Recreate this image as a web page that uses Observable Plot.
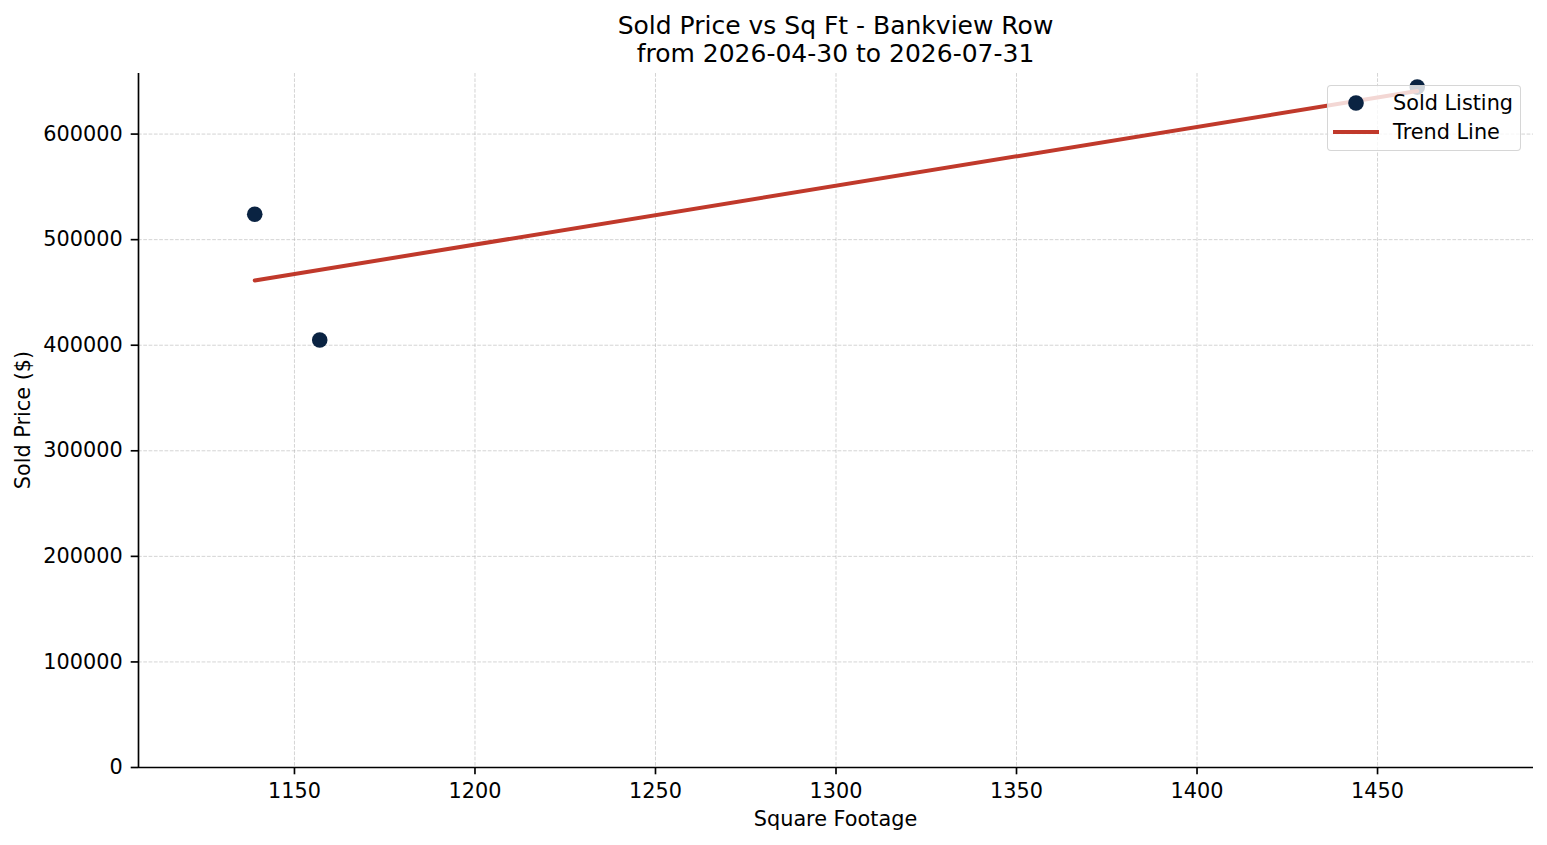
<!DOCTYPE html>
<html>
<head>
<meta charset="utf-8">
<script src="https://cdn.jsdelivr.net/npm/d3@7"></script>
<script src="https://cdn.jsdelivr.net/npm/@observablehq/plot@0.6"></script>
<style>
  html, body { margin: 0; padding: 0; background: #fff; }
  body { font-family: "DejaVu Sans", sans-serif; color: #000; }
  #wrap { position: relative; width: 1547px; height: 845px; }
  .title { position: absolute; left: 138px; width: 1395px; top: 11.5px; text-align: center; font-size: 25px; line-height: 28.4px; }
  .xlabel { position: absolute; left: 138px; width: 1395px; top: 807px; text-align: center; font-size: 20.8px; line-height: 24px; }
  .ylabel { position: absolute; left: 23px; top: 420px; transform: translate(-50%, -50%) rotate(-90deg); white-space: nowrap; font-size: 20.8px; line-height: 24px; }
  .legend { position: absolute; left: 1327px; top: 85px; width: 192px; height: 64px; border: 1px solid rgba(204,204,204,0.8); background: rgba(255,255,255,0.8); border-radius: 4px; }
  .legend svg { position: absolute; left: 0; top: 0; }
  .legend .lt { position: absolute; left: 65px; font-size: 20.8px; line-height: 24px; white-space: nowrap; }
</style>
</head>
<body>
<div id="wrap">
  <div id="chart"></div>
  <div class="title">Sold Price vs Sq Ft - Bankview Row<br>from 2026-04-30 to 2026-07-31</div>
  <div class="xlabel">Square Footage</div>
  <div class="ylabel">Sold Price ($)</div>
  <div class="legend">
    <svg width="192" height="64">
      <circle cx="28" cy="17" r="7.8" fill="#0a2342"></circle>
      <line x1="5" x2="51" y1="46" y2="46" stroke="#c0392b" stroke-width="4.2"></line>
    </svg>
    <div class="lt" style="top:5px">Sold Listing</div>
    <div class="lt" style="top:34px">Trend Line</div>
  </div>
</div>
<script>
// Data
const sqft = [1139, 1157, 1461];
const soldPrice = [524000, 405000, 644500];
const xTicks = [1150, 1200, 1250, 1300, 1350, 1400, 1450];
const yTicks = [0, 100000, 200000, 300000, 400000, 500000, 600000];

const listings = sqft.map((s, i) => ({sqft: s, price: soldPrice[i]}));

// least-squares trend from the listings
const mx = d3.mean(sqft), my = d3.mean(soldPrice);
const slope = d3.sum(sqft, (s, i) => (s - mx) * (soldPrice[i] - my)) / d3.sum(sqft, s => (s - mx) ** 2);
const xmin = d3.min(sqft), xmax = d3.max(sqft);
const trend = [xmin, xmax].map(s => ({sqft: s, price: my + slope * (s - mx)}));

const xr = xmax - xmin;
const xDomain = [xmin - 0.1 * xr, xmax + 0.1 * xr];
const yDomain = [0, d3.max(soldPrice) * 1.02];

const chart = Plot.plot({
  width: 1547,
  height: 845,
  marginLeft: 138,
  marginRight: 14,
  marginTop: 73,
  marginBottom: 78,
  style: {fontFamily: "DejaVu Sans, sans-serif", fontSize: "20.8px", color: "#000", background: "transparent", overflow: "visible"},
  x: {domain: xDomain, label: null},
  y: {domain: yDomain, label: null},
  marks: [
    Plot.gridX(xTicks, {stroke: "#b0b0b0", strokeOpacity: 0.55, strokeWidth: 1, strokeDasharray: "3.7,1.6"}),
    Plot.gridY(yTicks, {stroke: "#b0b0b0", strokeOpacity: 0.55, strokeWidth: 1, strokeDasharray: "3.7,1.6"}),
    Plot.dot(listings, {x: "sqft", y: "price", r: 7.8, fill: "#0a2342", stroke: "none"}),
    Plot.line(trend, {x: "sqft", y: "price", stroke: "#c0392b", strokeWidth: 4}),
    Plot.ruleX([xDomain[0]], {stroke: "#000", strokeWidth: 1.67}),
    Plot.ruleY([yDomain[0]], {stroke: "#000", strokeWidth: 1.67}),
    Plot.axisX(xTicks, {tickSize: 7.3, tickPadding: 8, tickFormat: d3.format("d"), strokeWidth: 1.67, fontSize: 20.8, label: null}),
    Plot.axisY(yTicks, {tickSize: 7.3, tickPadding: 8.5, tickFormat: d3.format("d"), strokeWidth: 1.67, fontSize: 20.8, label: null})
  ]
});
document.getElementById("chart").appendChild(chart);
</script>
</body>
</html>
